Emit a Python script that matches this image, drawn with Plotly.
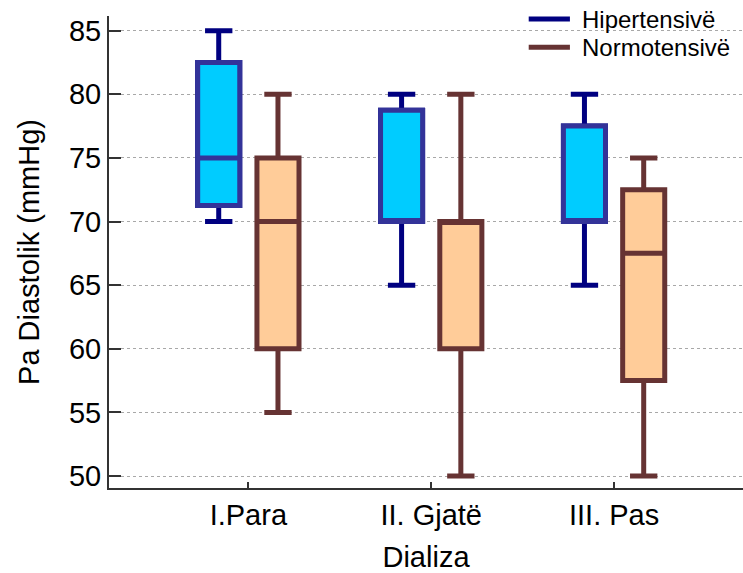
import plotly.graph_objects as go

categories = ["I.Para", "II. Gjatë", "III. Pas"]
series_names = ["Hipertensivë", "Normotensivë"]

hyp_low = [70, 65, 65]
hyp_q1 = [71.25, 70, 70]
hyp_med = [75, 70, 70]
hyp_q3 = [82.5, 78.75, 77.5]
hyp_high = [85, 80, 80]

nor_low = [55, 50, 50]
nor_q1 = [60, 60, 57.5]
nor_med = [70, 70, 67.5]
nor_q3 = [75, 70, 72.5]
nor_high = [80, 80, 75]

FONT = "Liberation Sans, Arial, sans-serif"
HYP_FILL = "#00CCFF"
HYP_BORDER = "#333399"
HYP_WHISK = "#000080"
NOR_FILL = "#FFCC99"
NOR_LINE = "#663333"
LW = 5
FS = 29

fig = go.Figure()

# Hypertensive whiskers (navy)
fig.add_trace(go.Box(
    x=categories, q1=hyp_q1, median=hyp_med, q3=hyp_q3,
    lowerfence=hyp_low, upperfence=hyp_high,
    fillcolor=HYP_FILL, line=dict(color=HYP_WHISK, width=LW),
    whiskerwidth=0.65, boxpoints=False, offsetgroup="h",
    name=series_names[0], showlegend=False, hoverinfo="skip"))
# Hypertensive box (border colour)
fig.add_trace(go.Box(
    x=categories, q1=hyp_q1, median=hyp_med, q3=hyp_q3,
    lowerfence=hyp_q1, upperfence=hyp_q3,
    fillcolor=HYP_FILL, line=dict(color=HYP_BORDER, width=LW),
    whiskerwidth=0, boxpoints=False, offsetgroup="h",
    name=series_names[0], showlegend=False, hoverinfo="skip"))
# Normotensive
fig.add_trace(go.Box(
    x=categories, q1=nor_q1, median=nor_med, q3=nor_q3,
    lowerfence=nor_low, upperfence=nor_high,
    fillcolor=NOR_FILL, line=dict(color=NOR_LINE, width=LW),
    whiskerwidth=0.65, boxpoints=False, offsetgroup="n",
    name=series_names[1], showlegend=False, hoverinfo="skip"))

# Custom legend (line samples + text)
legend_y = [0.9936, 0.9337]
legend_colors = [HYP_WHISK, NOR_LINE]
for name, ly, col in zip(series_names, legend_y, legend_colors):
    fig.add_shape(type="line", xref="paper", yref="paper",
                  x0=0.662, x1=0.727, y0=ly, y1=ly,
                  line=dict(color=col, width=LW))
    fig.add_annotation(xref="paper", yref="paper", x=0.7429, y=ly,
                       xanchor="left", yanchor="middle", showarrow=False,
                       text=name, font=dict(size=24, family=FONT, color="black"))

fig.update_layout(
    width=743, height=573,
    margin=dict(l=109, r=0, t=16, b=85),
    paper_bgcolor="white", plot_bgcolor="white",
    font=dict(family=FONT, color="black", size=FS),
    boxmode="group", boxgap=0.352, boxgroupgap=0.29,
    showlegend=False,
    xaxis=dict(
        type="category", range=[-0.762, 2.705],
        showline=True, linecolor="#333333", linewidth=2,
        ticks="inside", ticklen=6, tickwidth=2, tickcolor="#333333",
        showgrid=False, zeroline=False,
        tickfont=dict(size=FS),
        title=dict(text="Dializa", font=dict(size=FS), standoff=18),
    ),
    yaxis=dict(
        range=[49.06, 86.15], dtick=5, tick0=50,
        showline=True, linecolor="#333333", linewidth=2,
        ticks="inside", ticklen=12, tickwidth=2, tickcolor="#333333",
        showgrid=True, gridcolor="#a8a8a8", gridwidth=1, griddash="dot",
        zeroline=False,
        tickfont=dict(size=FS),
        title=dict(text="Pa Diastolik (mmHg)", font=dict(size=FS), standoff=21),
    ),
)

fig.write_html("out.html")
